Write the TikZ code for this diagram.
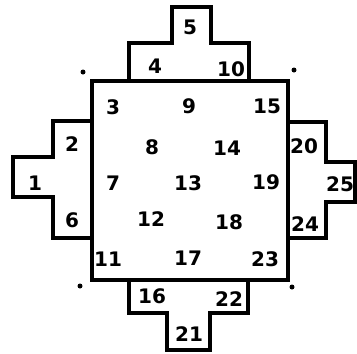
\documentclass[tikz,border=0pt]{standalone}
\usepackage{fontspec}
\setmainfont{DejaVu Sans}
\begin{document}
\begin{tikzpicture}[x=1pt,y=-1pt,
  edge/.style={line width=3.5pt,line join=miter,line cap=round},
  num/.style={font=\fontsize{20}{20}\selectfont\bfseries,inner sep=0pt},
  spot/.style={fill=black,circle,inner sep=0pt,minimum size=5pt}]
\useasboundingbox (0,0) rectangle (357,354);
% corner coordinates
\coordinate (s1) at (92,81);
\coordinate (s2) at (288,81);
\coordinate (s3) at (288,280);
\coordinate (s4) at (92,280);
% main square
\draw[edge] (s1) -- (s2) -- (s3) -- (s4) -- cycle;
% top tier and box 5
\draw[edge] (129,81) -- (129,43) -- (172,43) -- (172,7) -- (211,7) -- (211,43) -- (249,43) -- (249,81);
% right tier and box 25
\draw[edge] (288,122) -- (326,122) -- (326,162) -- (355,162) -- (355,202) -- (326,202) -- (326,238) -- (288,238);
% bottom tier and box 21
\draw[edge] (248,280) -- (248,313) -- (210,313) -- (210,350) -- (167,350) -- (167,313) -- (129,313) -- (129,280);
% left tier and box 1
\draw[edge] (92,121) -- (53,121) -- (53,157) -- (13,157) -- (13,197) -- (53,197) -- (53,238) -- (92,238);
% dots
\node[spot] (d1) at (83,72) {};
\node[spot] (d2) at (294,70) {};
\node[spot] (d3) at (80,286) {};
\node[spot] (d4) at (292,287) {};
% numbers
\node[num] (n1) at (35,183) {1};
\node[num] (n2) at (72,144) {2};
\node[num] (n3) at (113,107) {3};
\node[num] (n4) at (155,66) {4};
\node[num] (n5) at (190,27) {5};
\node[num] (n6) at (72,220) {6};
\node[num] (n7) at (113,183) {7};
\node[num] (n8) at (152,147) {8};
\node[num] (n9) at (189,106) {9};
\node[num] (n10) at (231,69) {10};
\node[num] (n11) at (108,259) {11};
\node[num] (n12) at (151,219) {12};
\node[num] (n13) at (188,183) {13};
\node[num] (n14) at (227,148) {14};
\node[num] (n15) at (267,106) {15};
\node[num] (n16) at (152,296) {16};
\node[num] (n17) at (188,258) {17};
\node[num] (n18) at (229,222) {18};
\node[num] (n19) at (266,182) {19};
\node[num] (n20) at (304,146) {20};
\node[num] (n21) at (189,334) {21};
\node[num] (n22) at (229,299) {22};
\node[num] (n23) at (265,259) {23};
\node[num] (n24) at (305,224) {24};
\node[num] (n25) at (340,184) {25};
\end{tikzpicture}
\end{document}
